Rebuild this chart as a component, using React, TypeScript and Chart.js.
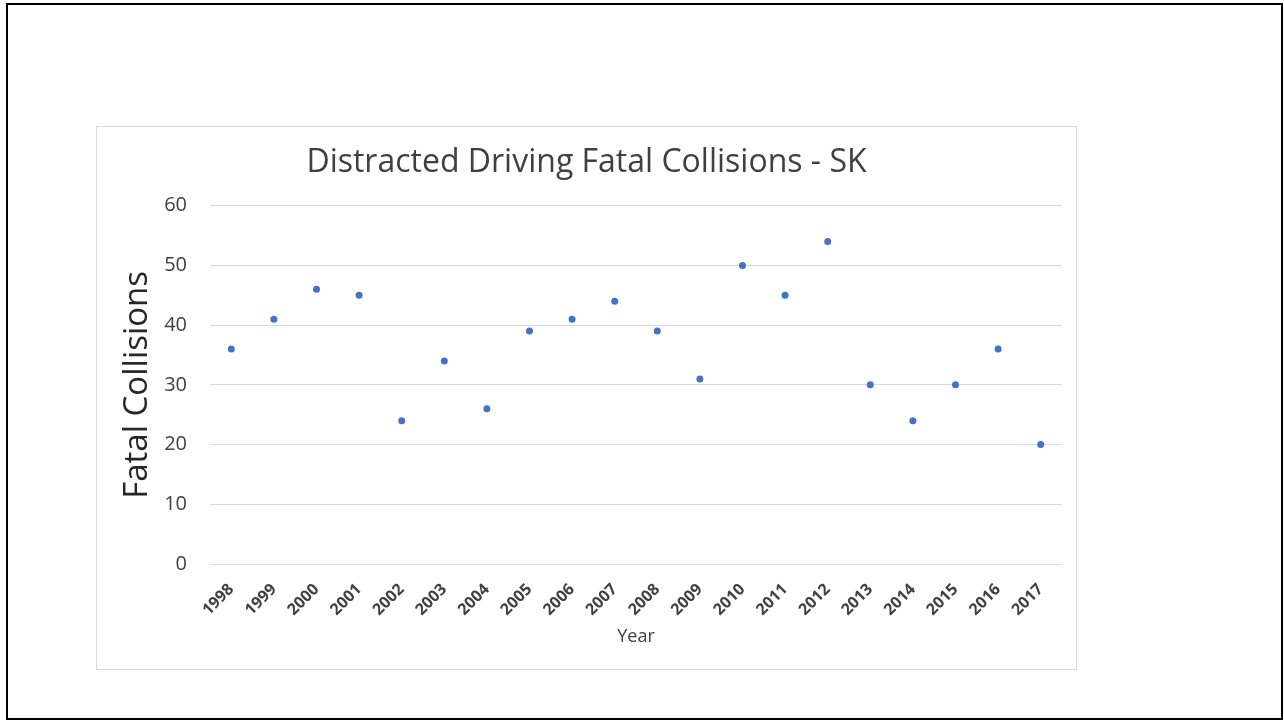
import React, { useEffect, useRef } from "react";
import { Chart, registerables } from "chart.js";

Chart.register(...registerables);

const years = ["1998","1999","2000","2001","2002","2003","2004","2005","2006","2007","2008","2009","2010","2011","2012","2013","2014","2015","2016","2017"];
const fatalCollisions = [36, 41, 46, 45, 24, 34, 26, 39, 41, 44, 39, 31, 50, 45, 54, 30, 24, 30, 36, 20];
const yMin = 0;
const yMax = 60;
const yStep = 10;
const chartTitle = "Distracted Driving Fatal Collisions - SK";
const xTitle = "Year";
const yTitle = "Fatal Collisions";

const FONT = "'Open Sans', 'Noto Sans', sans-serif";

export default function App() {
  const ref = useRef<HTMLCanvasElement>(null);
  useEffect(() => {
    if (!ref.current) return;
    const chart = new Chart(ref.current, {
      type: "line",
      data: {
        labels: years,
        datasets: [
          {
            data: fatalCollisions,
            showLine: false,
            pointRadius: 3.5,
            pointHoverRadius: 3.5,
            pointBackgroundColor: "#4472C4",
            pointBorderColor: "#4472C4",
            pointBorderWidth: 0,
            backgroundColor: "#4472C4",
            borderColor: "#4472C4",
          },
        ],
      },
      options: {
        responsive: false,
        animation: false,
        layout: { padding: { left: 14, right: 14, top: 0, bottom: 0 } },
        plugins: {
          legend: { display: false },
          tooltip: { enabled: false },
          title: {
            display: true,
            text: chartTitle,
            color: "#404040",
            font: { family: FONT, size: 32, weight: "normal" },
            padding: { top: 16.5, bottom: 23.8 },
          },
        },
        scales: {
          x: {
            offset: true,
            grid: { display: false },
            border: { display: false },
            ticks: {
              color: "#404040",
              font: { family: FONT, size: 16, weight: "bold" },
              minRotation: 45,
              maxRotation: 45,
              autoSkip: false,
              padding: 8,
            },
            title: {
              display: true,
              text: xTitle,
              color: "#404040",
              font: { family: FONT, size: 18, weight: "normal" },
              padding: { top: 4, bottom: 21 },
            },
            afterFit: (scale: any) => {
              scale.height = 105;
            },
          },
          y: {
            min: yMin,
            max: yMax,
            grid: { color: "#d9d9d9", lineWidth: 1, drawTicks: false },
            border: { display: false },
            ticks: {
              stepSize: yStep,
              color: "#404040",
              font: { family: FONT, size: 20, weight: "normal" },
              padding: 23,
            },
            title: {
              display: true,
              text: yTitle,
              color: "#262626",
              font: { family: FONT, size: 33, weight: "normal" },
              padding: { top: 7, bottom: 0 },
            },
            afterFit: (scale: any) => {
              scale.width = 99;
            },
          },
        },
      },
    });
    return () => chart.destroy();
  }, []);

  return (
    <>
      <div
        style={{
          position: "absolute",
          left: 6,
          top: 3,
          width: 1277,
          height: 717,
          border: "2px solid #000",
          boxSizing: "border-box",
        }}
      />
      <div
        style={{
          position: "absolute",
          left: 96,
          top: 126,
          width: 981,
          height: 544,
          border: "1px solid #d9d9d9",
          boxSizing: "border-box",
          background: "#fff",
        }}
      >
        <canvas ref={ref} width={979} height={542} style={{ display: "block" }} />
      </div>
    </>
  );
}
